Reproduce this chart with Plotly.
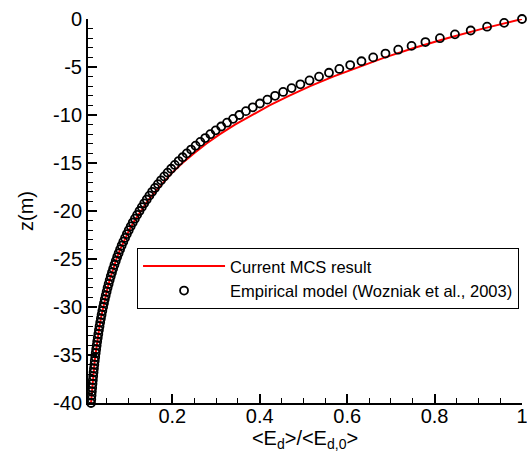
import plotly.graph_objects as go

# Empirical model (Wozniak et al., 2003): depth (m) and <Ed>/<Ed,0>
emp_z = [round(-0.4 * i, 1) for i in range(101)]
emp_x = [1.0000, 0.9592, 0.9201, 0.8826, 0.8466, 0.8122, 0.7790, 0.7473, 0.7168, 0.6876,
         0.6595, 0.6327, 0.6069, 0.5821, 0.5584, 0.5356, 0.5138, 0.4929, 0.4728, 0.4535,
         0.4350, 0.4173, 0.4003, 0.3840, 0.3683, 0.3533, 0.3389, 0.3251, 0.3118, 0.2991,
         0.2869, 0.2752, 0.2640, 0.2532, 0.2429, 0.2330, 0.2235, 0.2144, 0.2056, 0.1973,
         0.1892, 0.1815, 0.1741, 0.1670, 0.1602, 0.1537, 0.1474, 0.1414, 0.1356, 0.1301,
         0.1248, 0.1194, 0.1143, 0.1094, 0.1047, 0.1002, 0.0959, 0.0918, 0.0878, 0.0840,
         0.0804, 0.0770, 0.0737, 0.0705, 0.0675, 0.0646, 0.0618, 0.0591, 0.0566, 0.0542,
         0.0518, 0.0496, 0.0475, 0.0454, 0.0435, 0.0416, 0.0398, 0.0381, 0.0365, 0.0349,
         0.0334, 0.0320, 0.0306, 0.0293, 0.0280, 0.0268, 0.0257, 0.0246, 0.0235, 0.0225,
         0.0215, 0.0206, 0.0197, 0.0189, 0.0181, 0.0173, 0.0165, 0.0158, 0.0152, 0.0145,
         0.0139]

# Current MCS result
mcs_z = [0, -1, -2, -3, -4, -5, -6, -7, -8, -9, -10, -11, -12, -13, -14, -15, -16, -17, -18, -19, -20,
         -21, -22, -23, -24, -25, -26, -27, -28, -29, -30, -31, -32, -33, -34, -35, -36, -37, -38, -39, -40]
mcs_x = [1.0000, 0.9103, 0.8286, 0.7543, 0.6866, 0.6250, 0.5678, 0.5153, 0.4667, 0.4223, 0.3810,
         0.3433, 0.3089, 0.2775, 0.2491, 0.2231, 0.1999, 0.1790, 0.1601, 0.1429, 0.1275,
         0.1135, 0.1012, 0.0903, 0.0806, 0.0721, 0.0646, 0.0578, 0.0518, 0.0464, 0.0416,
         0.0373, 0.0334, 0.0299, 0.0268, 0.0240, 0.0215, 0.0193, 0.0173, 0.0155, 0.0139]

y_tickvals = [0, -5, -10, -15, -20, -25, -30, -35, -40]
y_ticktext = ["0", "-5", "-10", "-15", "-20", "-25", "-30", "-35", "-40"]
x_tickvals = [0.2, 0.4, 0.6, 0.8, 1.0]
x_ticktext = ["0.2", "0.4", "0.6", "0.8", "1"]

FONT = "Liberation Sans, Arial, Helvetica, sans-serif"

fig = go.Figure()
fig.add_trace(go.Scatter(
    x=mcs_x, y=mcs_z, mode="lines", name="Current MCS result",
    line=dict(color="#ff0000", width=2), cliponaxis=False,
))
fig.add_trace(go.Scatter(
    x=emp_x, y=emp_z, mode="markers", name="Empirical model (Wozniak et al., 2003)",
    marker=dict(symbol="circle-open", size=8, color="black", line=dict(width=1.8, color="black")),
    cliponaxis=False,
))

fig.update_layout(
    width=527, height=458,
    margin=dict(l=88, r=5, t=19, b=55, autoexpand=False),
    paper_bgcolor="white", plot_bgcolor="white",
    font=dict(family=FONT, size=20, color="black"),
    showlegend=True,
    legend=dict(
        x=0.113, y=0.404, xanchor="left", yanchor="top",
        bgcolor="white", bordercolor="black", borderwidth=1,
        font=dict(family=FONT, size=16.5, color="black"),
        itemwidth=82, tracegroupgap=0,
    ),
    xaxis=dict(
        range=[0.007, 1.0], showgrid=False, zeroline=False, automargin=False,
        showline=True, linecolor="black", linewidth=2,
        ticks="inside", ticklen=9, tickwidth=1.5, tickcolor="black",
        tickmode="array", tickvals=x_tickvals, ticktext=x_ticktext,
        minor=dict(tickmode="linear", tick0=0, dtick=0.05, ticks="inside", ticklen=5,
                   tickwidth=1.2, tickcolor="black", showgrid=False),
        tickfont=dict(size=20), ticklabelstandoff=-6, ticklabeloverflow="allow",
        title=dict(text="&lt;E<sub>d</sub>&gt;/&lt;E<sub>d,0</sub>&gt;", font=dict(size=20), standoff=0),
    ),
    yaxis=dict(
        range=[-40, 0], showgrid=False, zeroline=False, automargin=False,
        showline=True, linecolor="black", linewidth=2,
        ticks="inside", ticklen=9, tickwidth=1.5, tickcolor="black",
        tickmode="array", tickvals=y_tickvals, ticktext=y_ticktext,
        minor=dict(tickmode="linear", tick0=0, dtick=1, ticks="inside", ticklen=5,
                   tickwidth=1.2, tickcolor="black", showgrid=False),
        tickfont=dict(size=20), ticklabeloverflow="allow",
        title=dict(text="z(m)", font=dict(size=20), standoff=14),
    ),
)

fig.write_html("out.html", config={"displayModeBar": False},
               post_script="document.body.style.margin='0';")
